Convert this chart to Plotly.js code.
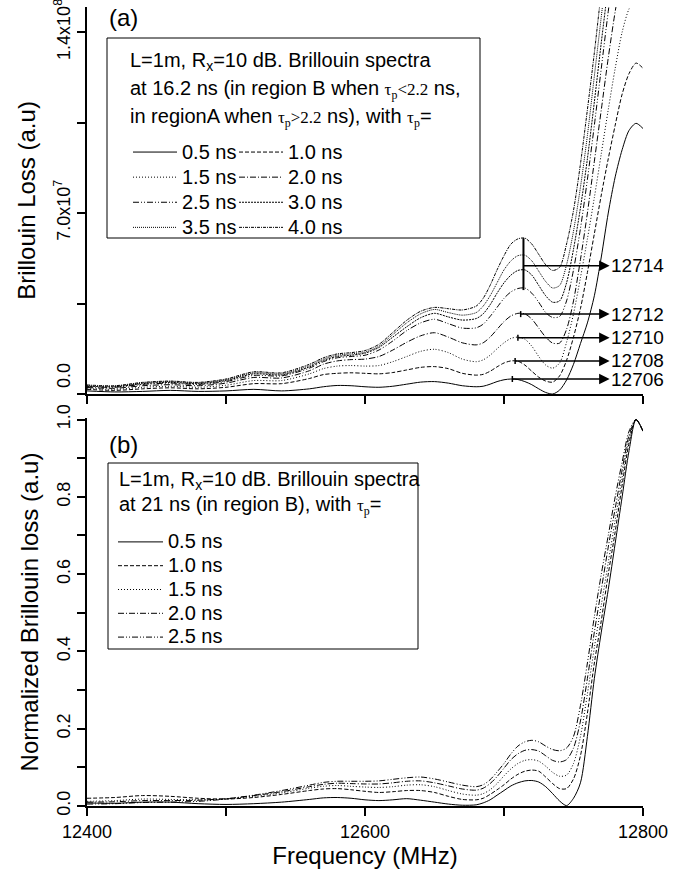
<!DOCTYPE html>
<html><head><meta charset="utf-8">
<script src="https://cdn.plot.ly/plotly-3.0.1.min.js"></script>
<style>body{margin:0;background:#fff}</style>
</head><body><div id="chart" style="width:677px;height:880px"></div>
<script>
// Frequency grid (MHz)
const freq = [12400,12420,12440,12460,12480,12500,12520,12540,12560,
  12570,12580,12590,12600,12610,12620,12630,12640,12650,12660,12670,12680,
  12685,12690,12695,12700,12705,12710,12715,12720,12725,12730,12735,12740,12745,
  12750,12755,12760,12765,12770,12775,12780,12785,12790,12795,12800];

// Panel (a): Brillouin loss, in units of 1e7 (a.u.)
const tauA = ['0.5 ns','1.0 ns','1.5 ns','2.0 ns','2.5 ns','3.0 ns','3.5 ns','4.0 ns'];
const lossA_0p5 = [0.12,0.08,0.1,0.14,0.1,0.12,0.18,0.12,0.2,
  0.28,0.33,0.32,0.28,0.26,0.3,0.38,0.46,0.48,0.42,0.32,0.28,
  0.3,0.38,0.48,0.55,0.58,0.56,0.48,0.36,0.2,0.06,0.0,0.15,0.54,1.15,1.95,2.75,3.8,5.3,7.0,8.4,9.45,10.2,10.47,10.27];
const lossA_1p0 = [0.18,0.14,0.2,0.24,0.2,0.26,0.4,0.4,0.6,
  0.75,0.8,0.82,0.8,0.78,0.83,0.93,1.03,1.06,0.98,0.8,0.73,
  0.76,0.88,1.05,1.2,1.28,1.27,1.12,0.88,0.65,0.5,0.46,0.7,1.3,2.2,3.3,4.7,6.2,7.7,9.1,10.4,11.6,12.4,12.8,12.6];
const lossA_1p5 = [0.22,0.18,0.26,0.3,0.26,0.34,0.52,0.52,0.78,
  0.98,1.08,1.1,1.08,1.1,1.25,1.45,1.65,1.73,1.6,1.35,1.25,
  1.32,1.5,1.75,1.98,2.15,2.2,2.12,1.85,1.45,1.12,1.0,1.2,2.0,3.1,4.5,6.0,7.6,9.3,11.0,12.6,14.0,14.9,15.3,15.1];
const lossA_2p0 = [0.25,0.22,0.32,0.36,0.32,0.42,0.64,0.62,0.9,
  1.15,1.28,1.33,1.35,1.45,1.7,2.0,2.25,2.37,2.2,1.98,1.9,
  1.98,2.2,2.5,2.8,3.02,3.12,3.1,2.9,2.55,2.2,1.97,1.97,2.5,3.6,5.2,7.0,9.0,11.0,13.0,14.8,16.3,17.3,17.7,17.5];
const lossA_2p5 = [0.28,0.26,0.37,0.42,0.37,0.48,0.72,0.7,1.0,
  1.25,1.4,1.45,1.5,1.7,2.05,2.45,2.75,2.89,2.72,2.55,2.56,
  2.7,3.0,3.35,3.7,3.95,4.08,4.1,3.9,3.55,3.15,2.96,3.0,3.6,4.8,6.4,8.3,10.4,12.6,14.8,16.8,18.4,19.5,20.0,19.8];
const lossA_3p0 = [0.3,0.28,0.4,0.45,0.4,0.52,0.78,0.74,1.05,
  1.3,1.45,1.5,1.58,1.8,2.2,2.6,2.95,3.12,2.98,2.86,2.92,
  3.1,3.45,3.9,4.3,4.6,4.78,4.8,4.6,4.2,3.8,3.55,3.6,4.3,5.6,7.2,9.1,11.3,13.6,15.8,17.9,19.6,20.8,21.3,21.1];
const lossA_3p5 = [0.33,0.3,0.43,0.48,0.43,0.55,0.82,0.78,1.1,
  1.35,1.5,1.55,1.62,1.85,2.3,2.75,3.1,3.27,3.15,3.05,3.15,
  3.4,3.8,4.3,4.8,5.15,5.35,5.37,5.15,4.75,4.35,4.1,4.2,5.0,6.3,8.0,10.0,12.3,14.6,16.9,19.0,20.7,22.0,22.5,22.3];
const lossA_4p0 = [0.35,0.32,0.45,0.5,0.45,0.58,0.86,0.82,1.15,
  1.4,1.55,1.6,1.68,1.92,2.38,2.85,3.2,3.35,3.3,3.25,3.4,
  3.7,4.2,4.8,5.35,5.8,6.0,6.03,5.8,5.4,5.0,4.78,4.9,5.8,7.1,8.9,11.0,13.2,15.6,18.0,20.1,21.9,23.2,23.7,23.5];

// Panel (a) peak-position markers
const peakLabels = ['12706','12708','12710','12712','12714'];
const peakFreqs = [12706,12708,12710,12712,12714];
const peakArrowVals = [0.58,1.28,2.18,3.09,4.96];
const peakBarFreq = [12714,12714];
const peakBarVals = [4.02,6.03];

// Panel (b): normalized Brillouin loss
const tauB = ['0.5 ns','1.0 ns','1.5 ns','2.0 ns','2.5 ns'];
const normB_0p5 = [0.008,0.007,0.01,0.01,0.006,0.004,0.006,0.01,0.017,
  0.021,0.022,0.02,0.016,0.014,0.016,0.019,0.015,0.01,0.005,0.002,0.003,
  0.008,0.016,0.028,0.04,0.052,0.06,0.065,0.066,0.062,0.05,0.032,0.013,0.001,0.02,0.06,0.18,0.33,0.45,0.56,0.68,0.8,0.92,1.0,0.97];
const normB_1p0 = [0.02,0.022,0.027,0.025,0.02,0.018,0.022,0.03,0.04,
  0.044,0.045,0.042,0.038,0.035,0.037,0.04,0.04,0.035,0.025,0.017,0.016,
  0.02,0.03,0.042,0.055,0.07,0.082,0.09,0.093,0.09,0.075,0.058,0.045,0.045,0.07,0.13,0.24,0.37,0.48,0.6,0.71,0.83,0.94,1.0,0.97];
const normB_1p5 = [0.012,0.014,0.018,0.017,0.016,0.018,0.025,0.034,0.046,
  0.051,0.053,0.051,0.049,0.048,0.05,0.054,0.055,0.05,0.04,0.031,0.028,
  0.032,0.042,0.058,0.078,0.096,0.11,0.118,0.12,0.116,0.103,0.087,0.077,0.08,0.11,0.18,0.29,0.41,0.52,0.63,0.74,0.85,0.95,1.0,0.97];
const normB_2p0 = [0.01,0.011,0.014,0.014,0.015,0.019,0.027,0.037,0.05,
  0.056,0.059,0.058,0.057,0.057,0.06,0.064,0.065,0.06,0.052,0.044,0.041,
  0.046,0.058,0.076,0.098,0.12,0.135,0.144,0.146,0.142,0.13,0.118,0.114,0.12,0.15,0.22,0.33,0.45,0.56,0.67,0.77,0.87,0.96,1.0,0.97];
const normB_2p5 = [0.005,0.006,0.009,0.01,0.012,0.018,0.028,0.04,0.054,
  0.061,0.064,0.064,0.064,0.065,0.069,0.073,0.075,0.07,0.062,0.054,0.05,
  0.055,0.068,0.088,0.11,0.135,0.155,0.166,0.17,0.166,0.155,0.146,0.143,0.15,0.18,0.26,0.37,0.49,0.6,0.7,0.8,0.89,0.97,1.0,0.97];

// Tick values and labels
const xTickVals = [12400,12600,12800];
const xTickText = ['12400','12600','12800'];
const xMinorVals = [12500,12700];
const yATickVals = [7,14];
const yATickText = ['7.0x10<sup>7</sup>','1.4x10<sup>8</sup>'];
const yAZeroLabel = '0.0';
const yAMinorVals = [0,3.5,10.5];
const yBTickVals = [0,0.2,0.4,0.6,0.8,1.0];
const yBTickText = ['0.0','0.2','0.4','0.6','0.8','1.0'];
const yBMinorVals = [0.1,0.3,0.5,0.7,0.9];

// ---- styling ----
const FONT = 'Liberation Sans, Arial, sans-serif';
const SERIF = 'Liberation Serif';
const dashes = ['solid','4px,2px','1px,2px','6px,2px,1px,2px','6px,2px,1px,2px,1px,2px','2px,1px','1px,1px','3px,1px,1px,1px'];
const lossA = [lossA_0p5,lossA_1p0,lossA_1p5,lossA_2p0,lossA_2p5,lossA_3p0,lossA_3p5,lossA_4p0];
const normB = [normB_0p5,normB_1p0,normB_1p5,normB_2p0,normB_2p5];
const legName = s => '<span style="font-size:20px">' + s + '</span>';

const traces = [];
lossA.forEach((ys,i) => traces.push({
  x: freq, y: ys, xaxis:'x', yaxis:'y', type:'scatter', mode:'lines',
  name: legName(tauA[i]), legend: (i % 2 === 0) ? 'legend' : 'legend2',
  line:{color:'#000', width:1, dash: dashes[i], shape:'spline', smoothing:0.8},
  hoverinfo:'skip'
}));
traces.push({x: peakBarFreq, y: peakBarVals, xaxis:'x', yaxis:'y', type:'scatter', mode:'lines',
  showlegend:false, line:{color:'#000', width:2}, hoverinfo:'skip'});
normB.forEach((ys,i) => traces.push({
  x: freq, y: ys, xaxis:'x2', yaxis:'y2', type:'scatter', mode:'lines',
  name: legName(tauB[i]), legend:'legend3',
  line:{color:'#000', width:1, dash: dashes[i], shape:'spline', smoothing:0.8},
  hoverinfo:'skip'
}));

// paper-coordinate helpers (plot area: x 87..643 px, y 7..806 px)
const PX = px => (px - 87) / 556;
const PY = py => (806 - py) / 799;

const annotations = [];
const shapes = [];
peakFreqs.forEach((f,i) => {
  annotations.push({
    xref:'x', yref:'y', axref:'x', ayref:'y',
    x: f, y: peakArrowVals[i], ax: 12776, ay: peakArrowVals[i],
    text: peakLabels[i], xanchor:'left', yanchor:'middle',
    font:{family:FONT, size:19, color:'#000'},
    showarrow:true, arrowside:'start', startarrowhead:2, startarrowsize:1.4,
    arrowwidth:1.5, arrowcolor:'#000', borderpad:0
  });
  if (i < 4) shapes.push({type:'line', xref:'x', yref:'y', ysizemode:'pixel',
    yanchor: peakArrowVals[i], y0:-3, y1:3, x0:f, x1:f, line:{color:'#000', width:1.5}});
});

const hdrA = [
  'L=1m, R<sub>x</sub>=10 dB. Brillouin spectra',
  'at 16.2 ns (in region B when <span style="font-family:' + SERIF + ';font-size:17px">τ<sub>p</sub>&lt;2.2</span> ns,',
  'in regionA when <span style="font-family:' + SERIF + ';font-size:17px">τ<sub>p</sub>&gt;2.2</span> ns), with <span style="font-family:' + SERIF + ';font-size:17px">τ<sub>p</sub></span>='
];
const hdrAY = [62, 90, 118];
hdrA.forEach((t,i) => annotations.push({xref:'paper', yref:'paper', x: PX(128), y: PY(hdrAY[i]),
  xanchor:'left', yanchor:'middle', showarrow:false, text:t, font:{family:FONT, size:20, color:'#000'}}));
const hdrB = [
  'L=1m, R<sub>x</sub>=10 dB. Brillouin spectra',
  'at 21 ns (in region B), with <span style="font-family:' + SERIF + ';font-size:17px">τ<sub>p</sub></span>='
];
const hdrBY = [480, 506];
hdrB.forEach((t,i) => annotations.push({xref:'paper', yref:'paper', x: PX(117), y: PY(hdrBY[i]),
  xanchor:'left', yanchor:'middle', showarrow:false, text:t, font:{family:FONT, size:20, color:'#000'}}));

annotations.push({xref:'paper', yref:'paper', x: PX(107), y: PY(18), xanchor:'left', yanchor:'middle',
  showarrow:false, text:'(a)', font:{family:FONT, size:24, color:'#000'}});
annotations.push({xref:'paper', yref:'paper', x: PX(107), y: PY(444), xanchor:'left', yanchor:'middle',
  showarrow:false, text:'(b)', font:{family:FONT, size:24, color:'#000'}});
// zero label of panel (a), lifted above the axis corner as in the original
annotations.push({xref:'paper', yref:'paper', x: PX(64), y: PY(376), xanchor:'center', yanchor:'middle',
  textangle:-90, showarrow:false, text:yAZeroLabel, font:{family:FONT, size:18, color:'#000'}});

shapes.push({type:'rect', xref:'paper', yref:'paper', x0: PX(107), x1: PX(480), y0: PY(238), y1: PY(38),
  line:{color:'#000', width:1}, layer:'above'});
shapes.push({type:'rect', xref:'paper', yref:'paper', x0: PX(108), x1: PX(418), y0: PY(649), y1: PY(463),
  line:{color:'#000', width:1}, layer:'above'});

const minorStyle = vals => ({tickvals: vals, ticks:'outside', ticklen:8, tickwidth:2, tickcolor:'#000', showgrid:false});
const axisCommon = {showline:true, linecolor:'#000', linewidth:2, ticks:'outside', ticklen:8,
  tickwidth:2, tickcolor:'#000', showgrid:false, zeroline:false, ticklabeloverflow:'allow',
  tickfont:{family:FONT, size:18, color:'#000'}};

const legendCommon = {xref:'paper', yref:'paper', xanchor:'left', yanchor:'top',
  bgcolor:'rgba(0,0,0,0)', borderwidth:0, tracegroupgap:0, orientation:'v'};

const layout = {
  width:677, height:880,
  margin:{l:87, r:34, t:7, b:74},
  paper_bgcolor:'#fff', plot_bgcolor:'#fff',
  font:{family:FONT, color:'#000'},
  showlegend:true,
  xaxis: Object.assign({}, axisCommon, {domain:[0,1], anchor:'y', range:[12400,12800],
    tickvals:xTickVals, ticktext:xTickText, showticklabels:false, minor: minorStyle(xMinorVals)}),
  yaxis: Object.assign({}, axisCommon, {domain:[PY(394),1], anchor:'x', range:[0,14.97],
    tickvals:yATickVals, ticktext:yATickText, tickangle:-90, minor: minorStyle(yAMinorVals),
    title:{text:'Brillouin Loss (a.u)', font:{family:FONT, size:24, color:'#000'}, standoff:9}}),
  xaxis2: Object.assign({}, axisCommon, {domain:[0,1], anchor:'y2', range:[12400,12800],
    tickvals:xTickVals, ticktext:xTickText, matches:'x', minor: minorStyle(xMinorVals),
    title:{text:'Frequency (MHz)', font:{family:FONT, size:24, color:'#000'}, standoff:3}}),
  yaxis2: Object.assign({}, axisCommon, {domain:[0,PY(418)], anchor:'x2', range:[0,1.004],
    tickvals:yBTickVals, ticktext:yBTickText, tickangle:-90, minor: minorStyle(yBMinorVals),
    title:{text:'Normalized Brillouin loss (a.u)', font:{family:FONT, size:24, color:'#000'}, standoff:8}}),
  legend: Object.assign({}, legendCommon, {x: PX(128), y: PY(134.5), itemwidth:44,
    font:{family:FONT, size:17, color:'#000'}}),
  legend2: Object.assign({}, legendCommon, {x: PX(234), y: PY(134.5), itemwidth:44,
    font:{family:FONT, size:17, color:'#000'}}),
  legend3: Object.assign({}, legendCommon, {x: PX(113), y: PY(525), itemwidth:45,
    font:{family:FONT, size:16, color:'#000'}}),
  annotations: annotations,
  shapes: shapes
};

Plotly.newPlot('chart', traces, layout, {displayModeBar:false, staticPlot:true});
</script>
</body></html>
